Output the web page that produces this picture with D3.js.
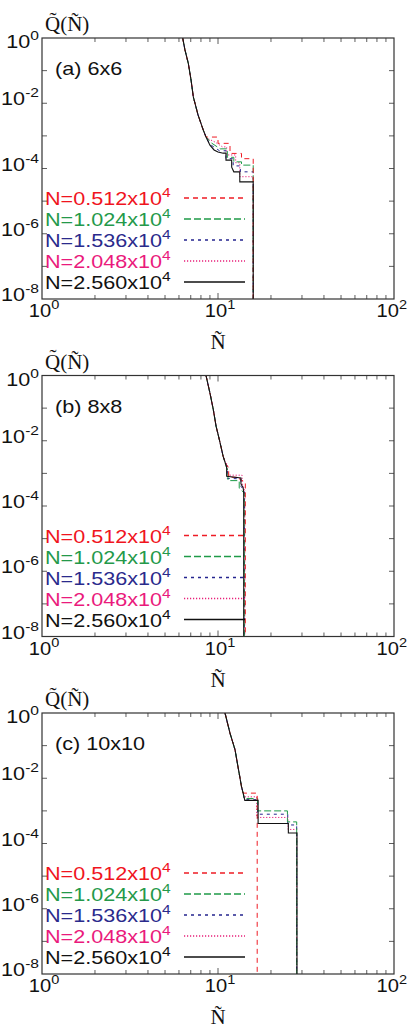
<!DOCTYPE html>
<html><head><meta charset="utf-8">
<script src="https://cdn.jsdelivr.net/npm/d3@7"></script>
<style>body{margin:0;background:#fff}svg{display:block}</style>
</head><body><svg id="c" width="409" height="1035"></svg>
<script>
// ---------- data ----------
const panelLabels = ["(a) 6x6", "(b) 8x8", "(c) 10x10"];
const seriesLabels = ["0.512", "1.024", "1.536", "2.048", "2.560"];
const xTickExps = [0, 1, 2];
const yTickExps = [0, -2, -4, -6, -8];

// panel (a) 6x6 : [Ñ, Q]
const headA = [[6.3,1],[6.49,0.43],[6.78,0.168],[7.03,0.051],[7.24,0.0158],[7.7,0.0044],[8.25,0.0015],[8.55,9.2e-4]];
const redA   = [[10.0,9.2e-4],[10.0,5.9e-4],[11.7,5.9e-4],[11.7,2.9e-4],[13.6,2.9e-4],[13.6,2.0e-4],[15.85,2.0e-4],[15.85,1e-9]];
const greenA = [[9.2,6.0e-4],[10.3,4.0e-4],[11.3,4.0e-4],[11.3,2.2e-4],[12.3,2.2e-4],[12.3,1.6e-4],[13.6,1.6e-4],[13.6,1.27e-4],[15.85,1.27e-4],[15.85,1e-9]];
const blueA  = [[9.0,5.5e-4],[10.2,3.5e-4],[11.1,3.5e-4],[11.1,2.0e-4],[12.2,2.0e-4],[12.2,1.2e-4],[13.4,1.2e-4],[13.4,7.9e-5],[15.85,7.9e-5],[15.85,1e-9]];
const pinkA  = [[8.7,8.4e-4],[9.6,6.5e-4],[10.6,4.6e-4],[11.2,4.6e-4],[11.2,2.6e-4],[12.6,2.6e-4],[12.6,1.5e-4],[13.3,1.5e-4],[13.3,5.6e-5],[15.85,5.6e-5],[15.85,1e-9]];
const blackA = [[9.0,5.2e-4],[9.5,3.7e-4],[10.0,3.2e-4],[10.7,2.95e-4],[11.1,2.95e-4],[11.1,1.8e-4],[11.96,1.8e-4],[11.96,1.1e-4],[12.3,7.9e-5],[13.3,7.9e-5],[13.3,3.9e-5],[15.85,3.9e-5],[15.85,1e-9]];

// panel (b) 8x8
const headB = [[8.55,1],[9.0,0.29],[9.4,0.091],[9.75,0.028],[10.17,0.011],[10.7,0.0033]];
const redB   = [[11.1,0.0019],[11.5,0.0015],[11.5,7.6e-4],[13.3,7.6e-4],[13.3,6.5e-4],[14.3,5.5e-4],[14.3,1e-9]];
const greenB = [[11.1,0.0017],[11.4,0.0012],[11.4,6.0e-4],[13.2,6.0e-4],[13.2,3.5e-4],[14.1,2.5e-4],[14.1,1e-9]];
const blueB  = [[11.05,0.002],[11.3,0.0016],[11.3,7.0e-4],[13.5,6.8e-4],[13.5,4.0e-4],[14.1,3.0e-4],[14.1,1e-9]];
const pinkB  = [[11.0,0.0022],[11.3,0.0019],[11.3,8.8e-4],[13.7,8.8e-4],[13.7,5.0e-4],[14.2,3.0e-4],[14.2,1e-9]];
const blackB = [[11.06,0.0019],[11.2,0.0015],[11.2,8.1e-4],[13.5,7.2e-4],[13.5,4.8e-4],[13.9,3.6e-4],[14.0,2.6e-4],[14.0,1e-9]];

// panel (c) 10x10
const headC = [[10.96,1],[11.7,0.24],[12.5,0.074],[13.0,0.022],[13.3,0.011],[13.6,0.0055],[13.9,0.0035]];
const redC   = [[16.7,3.5e-3],[16.7,1e-9]];
const greenC = [[14.1,2.4e-3],[16.8,2.4e-3],[16.8,1.0e-3],[24.8,1.0e-3],[24.8,4.6e-4],[28.0,4.6e-4],[28.0,1e-9]];
const blueC  = [[14.1,2.2e-3],[16.8,2.2e-3],[16.8,7.9e-4],[24.9,7.9e-4],[24.9,3.7e-4],[28.0,3.7e-4],[28.0,1e-9]];
const pinkC  = [[14.0,2.7e-3],[16.6,2.7e-3],[16.6,6.3e-4],[25.0,6.3e-4],[25.0,2.7e-4],[28.0,2.7e-4],[28.0,1e-9]];
const blackC = [[14.2,2.1e-3],[16.9,2.1e-3],[16.9,4.1e-4],[25.1,4.1e-4],[25.1,2.1e-4],[28.1,2.1e-4],[28.1,1e-9]];

// ---------- styles ----------
const colors = ["#ee1c25", "#1f9a48", "#25258f", "#e8207a", "#111111"];
const textColors = ["#f0141e", "#24994a", "#2a2a8c", "#ea1a7c", "#111111"];
const dashes = ["5,4", "7,3", "3,4", "1.2,1.8", null];

const panelData = [
  {head: headA, tails: [redA, greenA, blueA, pinkA, blackA]},
  {head: headB, tails: [redB, greenB, blueB, pinkB, blackB]},
  {head: headC, tails: [redC, greenC, blueC, pinkC, blackC]},
];

const svg = d3.select("#c");
const L = 42, R = 394, H = 261;
const FONT = "'Liberation Sans', Arial, sans-serif";
const SERIF = "'Liberation Serif', 'Times New Roman', serif";
const SX = 1.2; // horizontal stretch of the reference's sans text

function txt(g, x, y, anchor, size, color, sx) {
  return g.append("text").attr("transform", `translate(${x},${y}) scale(${sx || SX},1)`)
    .attr("text-anchor", anchor).attr("font-family", FONT)
    .attr("font-size", size).attr("fill", color || "#111");
}
function sci(g, x, y, exp, anchor, size, supSize, sx) {
  const t = txt(g, x, y, anchor, size, "#111", sx);
  t.append("tspan").text("10");
  t.append("tspan").attr("dy", -Math.round(size * 0.45)).attr("font-size", supSize)
    .text(exp < 0 ? "-" + (-exp) : String(exp));
  return t;
}

panelData.forEach((pd, i) => {
  const top = 38 + 337.5 * i;
  const bottom = top + H;
  const g = svg.append("g");
  const x = d3.scaleLog().domain([1, 100]).range([L, R]);
  const y = d3.scaleLog().domain([1e-8, 1]).range([bottom, top]);

  const clipId = "clip" + i;
  g.append("clipPath").attr("id", clipId).append("rect")
    .attr("x", L).attr("y", top).attr("width", R - L).attr("height", H);

  // ticks (inward, on all four sides)
  const xMinor = [];
  [1, 10].forEach(d => { for (let k = 2; k <= 9; k++) xMinor.push(d * k); });
  const tickG = g.append("g").attr("stroke", "#333").attr("stroke-width", 0.8);
  xMinor.forEach(v => {
    tickG.append("line").attr("x1", x(v)).attr("x2", x(v)).attr("y1", bottom).attr("y2", bottom - 4);
    tickG.append("line").attr("x1", x(v)).attr("x2", x(v)).attr("y1", top).attr("y2", top + 4);
  });
  [10].forEach(v => {
    tickG.append("line").attr("x1", x(v)).attr("x2", x(v)).attr("y1", bottom).attr("y2", bottom - 6);
    tickG.append("line").attr("x1", x(v)).attr("x2", x(v)).attr("y1", top).attr("y2", top + 6);
  });
  for (let e = -7; e <= -1; e++) {
    const v = Math.pow(10, e);
    tickG.append("line").attr("x1", L).attr("x2", L + 5).attr("y1", y(v)).attr("y2", y(v));
    tickG.append("line").attr("x1", R).attr("x2", R - 5).attr("y1", y(v)).attr("y2", y(v));
  }

  // curves (black drawn last so the shared steep part reads black)
  const line = d3.line().x(d => x(d[0])).y(d => y(d[1]));
  const cg = g.append("g").attr("clip-path", `url(#${clipId})`).attr("fill", "none");
  [3, 2, 1, 0, 4].forEach(s => {
    const pts = pd.head.concat(pd.tails[s]);
    const p = cg.append("path").attr("d", line(pts))
      .attr("stroke", colors[s]).attr("stroke-width", s === 4 ? 1.1 : 1.0);
    if (dashes[s]) p.attr("stroke-dasharray", dashes[s]);
  });

  // frame
  g.append("rect").attr("x", L).attr("y", top).attr("width", R - L).attr("height", H)
    .attr("fill", "none").attr("stroke", "#333").attr("stroke-width", 1.2);

  // y tick labels
  yTickExps.forEach(e => {
    const yy = e === 0 ? top + 10 : y(Math.pow(10, e)) + 2;
    sci(g, 39, yy, e, "end", 18, 13);
  });
  // x tick labels
  xTickExps.forEach(e => {
    const last = e === xTickExps[xTickExps.length - 1];
    if (last) sci(g, 407, bottom + 18, e, "end", 18, 13, 1.12);
    else sci(g, x(Math.pow(10, e)) + 2, bottom + 18, e, "middle", 18, 13, 1.12);
  });
  // axis titles
  g.append("text").attr("x", 45).attr("y", top - 7).attr("font-family", SERIF)
    .attr("font-size", 21).attr("fill", "#111").text("Q\u0303(\u00D1)");
  g.append("text").attr("x", x(10)).attr("y", bottom + 50).attr("text-anchor", "middle")
    .attr("font-family", SERIF).attr("font-size", 21).attr("fill", "#111").text("\u00D1");

  // panel label
  txt(g, 55, top + 37, "start", 18).text(panelLabels[i]);

  // legend
  seriesLabels.forEach((lab, s) => {
    const ly = top + 160 + 21 * s;
    const t = txt(g, 45, ly + 7, "start", 18, textColors[s]);
    t.append("tspan").text("N=" + lab + "x10");
    t.append("tspan").attr("dy", -8).attr("font-size", 13).text("4");
    const l = g.append("line").attr("x1", 184).attr("x2", 245).attr("y1", ly).attr("y2", ly)
      .attr("stroke", colors[s]).attr("stroke-width", 1.4);
    if (dashes[s]) l.attr("stroke-dasharray", dashes[s]);
  });
});
</script></body></html>
